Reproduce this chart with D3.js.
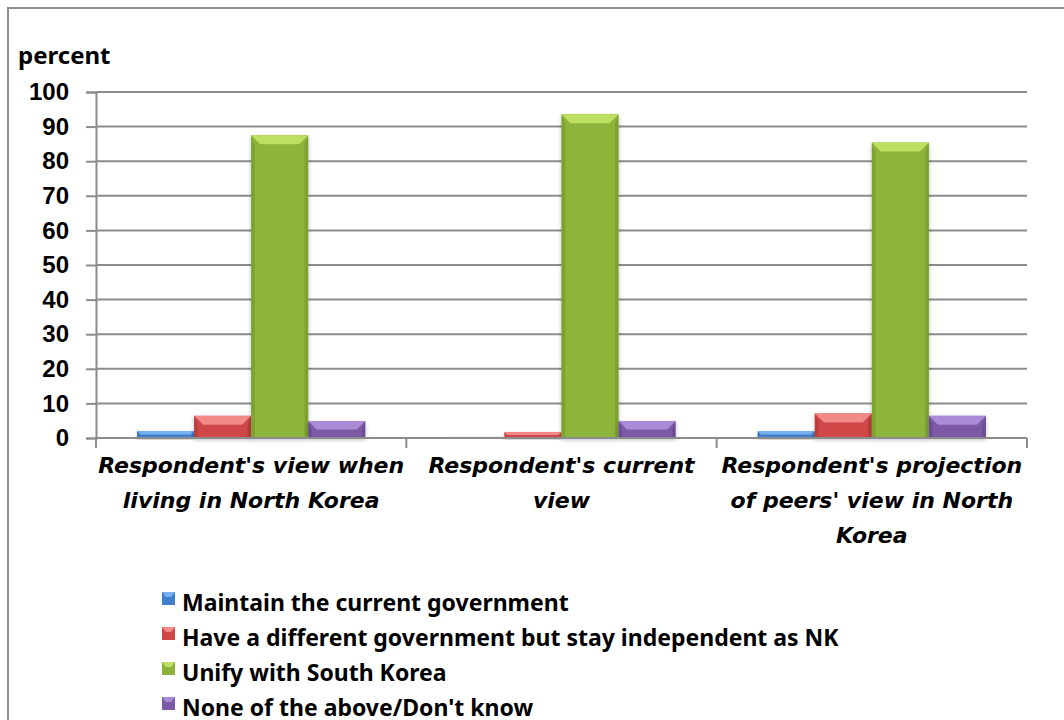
<!DOCTYPE html>
<html>
<head>
<meta charset="utf-8">
<script src="https://cdn.jsdelivr.net/npm/d3@7"></script>
<style>
  html, body { margin: 0; padding: 0; background: #fff; }
  svg { display: block; font-family: 'Noto Sans', 'Open Sans', sans-serif; }
</style>
</head>
<body>
<div id="chart"></div>
<script>
const categories = ["Respondent's view when living in North Korea", "Respondent's current view", "Respondent's projection of peers' view in North Korea"];
const categoryLines = [
  ["Respondent's view when", "living in North Korea"],
  ["Respondent's current", "view"],
  ["Respondent's projection", "of peers' view in North", "Korea"]
];
const seriesNames = ['Maintain the current government', 'Have a different government but stay independent as NK', 'Unify with South Korea', 'None of the above/Don\'t know'];
const maintainValues = [2, 0.3, 2];
const differentValues = [6.4, 1.7, 7.1];
const unifyValues = [87.5, 93.6, 85.4];
const noneValues = [4.9, 4.9, 6.4];
const yTicks = [0, 10, 20, 30, 40, 50, 60, 70, 80, 90, 100];

const seriesValues = [maintainValues, differentValues, unifyValues, noneValues];
const colors = [
  {base: '#3f7fcc', light: '#79b1ee', dark: '#2c5f9e'},
  {base: '#d04646', light: '#f28a88', dark: '#a03232'},
  {base: '#8db43a', light: '#bde062', dark: '#6e8f28'},
  {base: '#7b5aa6', light: '#a98bd6', dark: '#5c4182'}
];

const width = 1064, height = 720;
const plot = {left: 96, right: 1027, top: 92, bottom: 438};

const svg = d3.select('#chart').append('svg')
    .attr('width', width)
    .attr('height', height);

// Outer frame (runs past the right and bottom edges)
svg.append('rect')
    .attr('x', 8).attr('y', 8)
    .attr('width', 1080).attr('height', 740)
    .attr('fill', 'none')
    .attr('stroke', '#8c8c8c')
    .attr('stroke-width', 2);

let defs = svg.append('defs');
let shadow = defs.append('filter').attr('id', 'shadow')
    .attr('x', '-20%').attr('y', '-20%').attr('width', '140%').attr('height', '140%');
shadow.append('feDropShadow')
    .attr('dx', 0).attr('dy', 2).attr('stdDeviation', 2)
    .attr('flood-color', '#000').attr('flood-opacity', 0.25);

let y = d3.scaleLinear().domain([0, 100]).range([plot.bottom, plot.top]);
let x0 = d3.scaleBand().domain(categories).range([plot.left, plot.right]).padding(0);
let x1 = d3.scaleBand().domain(d3.range(seriesNames.length))
    .range([0, x0.bandwidth()]).paddingInner(0).paddingOuter(0.72);

// Gridlines
svg.append('g').selectAll('line')
    .data(yTicks.filter((d) => d > 0))
    .enter().append('line')
    .attr('x1', plot.left).attr('x2', plot.right)
    .attr('y1', (d) => y(d)).attr('y2', (d) => y(d))
    .attr('stroke', '#8c8c8c')
    .attr('stroke-width', 2);

// y axis
let yAxis = d3.axisLeft(y).tickValues(yTicks).tickSize(10).tickPadding(17);
let yG = svg.append('g')
    .attr('transform', 'translate(' + plot.left + ',0)')
    .call(yAxis);
yG.select('.domain').attr('stroke', '#8c8c8c').attr('stroke-width', 2);
yG.selectAll('.tick line').attr('stroke', '#8c8c8c').attr('stroke-width', 2);
yG.selectAll('.tick text')
    .attr('fill', '#000')
    .style('font-size', '24px')
    .style('font-weight', 'bold');

svg.append('text')
    .attr('x', 18).attr('y', 64)
    .style('font-size', '24px')
    .style('font-weight', 'bold')
    .text('percent');

// Bars with a bevelled look
let groups = svg.append('g').selectAll('g')
    .data(categories)
    .enter().append('g')
    .attr('transform', (d) => 'translate(' + x0(d) + ',0)');

groups.each(function (cat, ci) {
  let g = d3.select(this);
  seriesValues.forEach((vals, si) => {
    let v = vals[ci];
    let bx = x1(si), bw = x1.bandwidth();
    let by = y(v), bh = y(0) - y(v);
    let b = Math.min(9, bh / 2, bw / 4);
    let c = colors[si];
    let bar = g.append('g').attr('filter', 'url(#shadow)');
    bar.append('rect')
        .attr('x', bx).attr('y', by)
        .attr('width', bw).attr('height', bh)
        .attr('fill', c.base);
    // top bevel
    bar.append('polygon')
        .attr('points', [[bx, by], [bx + bw, by], [bx + bw - b, by + b], [bx + b, by + b]].join(' '))
        .attr('fill', c.light);
    // sides
    bar.append('polygon')
        .attr('points', [[bx, by], [bx + b * 0.4, by + b], [bx + b * 0.4, by + bh], [bx, by + bh]].join(' '))
        .attr('fill', c.dark).attr('opacity', 0.5);
    bar.append('polygon')
        .attr('points', [[bx + bw, by], [bx + bw - b * 0.4, by + b], [bx + bw - b * 0.4, by + bh], [bx + bw, by + bh]].join(' '))
        .attr('fill', c.dark).attr('opacity', 0.5);
  });
});

// x axis
let xG = svg.append('g');
xG.append('line')
    .attr('x1', plot.left).attr('x2', plot.right)
    .attr('y1', plot.bottom).attr('y2', plot.bottom)
    .attr('stroke', '#8c8c8c').attr('stroke-width', 2);
xG.selectAll('.xtick')
    .data(categories.map((d) => x0(d)).concat([plot.right]))
    .enter().append('line')
    .attr('x1', (d) => d).attr('x2', (d) => d)
    .attr('y1', plot.bottom).attr('y2', plot.bottom + 10)
    .attr('stroke', '#8c8c8c').attr('stroke-width', 2);

// category labels
categories.forEach((cat, ci) => {
  let t = svg.append('text')
      .attr('x', x0(cat) + x0.bandwidth() / 2)
      .attr('y', 473)
      .attr('text-anchor', 'middle')
      .style('font-family', "'DejaVu Sans', 'Noto Sans', sans-serif")
      .style('font-size', '22px')
      .style('font-weight', 'bold')
      .style('font-style', 'italic');
  categoryLines[ci].forEach((line, li) => {
    t.append('tspan')
        .attr('x', x0(cat) + x0.bandwidth() / 2)
        .attr('dy', li === 0 ? 0 : 35)
        .text(line);
  });
});

// legend
let legend = svg.append('g').selectAll('g')
    .data(seriesNames)
    .enter().append('g')
    .attr('transform', (d, i) => 'translate(162,' + (592 + i * 35) + ')');
legend.append('rect')
    .attr('width', 13).attr('height', 13)
    .attr('fill', (d, i) => colors[i].base);
legend.append('polygon')
    .attr('points', '0,0 13,0 9,5 4,5')
    .attr('fill', (d, i) => colors[i].light);
legend.append('text')
    .attr('x', 20).attr('y', 19)
    .style('font-size', '23px')
    .style('font-weight', 'bold')
    .text((d) => d);
</script>
</body>
</html>
